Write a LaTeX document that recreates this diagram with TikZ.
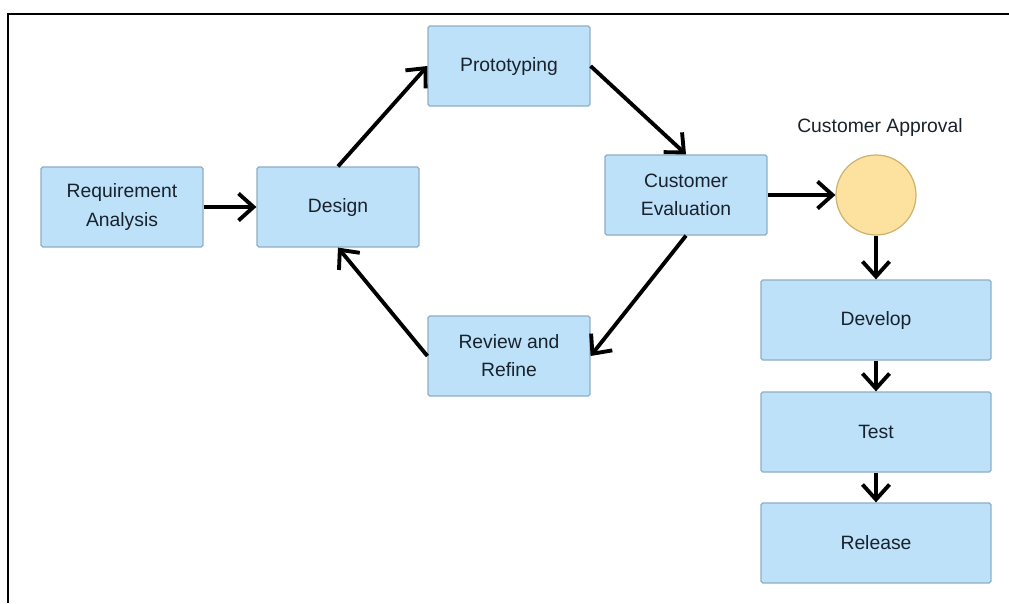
\documentclass[tikz,border=0pt]{standalone}
\usepackage{fontspec}
\setmainfont{Liberation Sans}
\usepackage{xcolor}
\usepackage{tikz}
\usetikzlibrary{shapes,arrows.meta,positioning,calc}

\definecolor{boxfill}{HTML}{BEE1FA}
\definecolor{boxline}{HTML}{8EADC4}
\definecolor{okfill}{HTML}{FCE29E}
\definecolor{okline}{HTML}{CDB46E}
\definecolor{txt}{HTML}{18222C}

\tikzset{
    stage/.style={draw=boxline, fill=boxfill, line width=0.7pt, rounded corners=1pt,
        minimum width=3.24cm, minimum height=1.6cm, align=center, text=txt,
        font=\fontsize{11}{16}\selectfont},
    widestage/.style={stage, minimum width=4.6cm},
    approval/.style={circle, draw=okline, fill=okfill, line width=0.7pt, minimum size=1.6cm},
    flow/.style={line width=2.2pt, -{Straight Barb[length=0.3cm, width=0.54cm, line width=2.2pt]}}
}

\begin{document}
\begin{tikzpicture}[x=0.02cm, y=-0.02cm]
    \useasboundingbox (0,0) rectangle (1009,603);

    % Frame
    \draw[line width=1.3pt] (8,603) -- (8,14) -- (1009,14);

    % Prototype loop
    \node[stage] (req) at (122,207) {Requirement\\Analysis};
    \node[stage] (design) at (338,207) {Design};
    \node[stage] (proto) at (509,66) {Prototyping};
    \node[stage] (eval) at (686,195) {Customer\\Evaluation};
    \node[stage] (refine) at (509,356) {Review and\\Refine};

    % Approval and delivery
    \node[approval] (ok) at (876,195) {};
    \node[text=txt, font=\fontsize{11}{16}\selectfont] (oklabel) at (880,127) {Customer Approval};
    \node[widestage] (dev) at (876,320) {Develop};
    \node[widestage] (test) at (876,432) {Test};
    \node[widestage] (rel) at (876,543) {Release};

    % Arrows
    \draw[flow] (req) -- (design);
    \draw[flow] (design.north) -- (proto.west);
    \draw[flow] (proto.east) -- (eval.north);
    \draw[flow] (eval.south) -- (refine.east);
    \draw[flow] (refine.west) -- (design.south);
    \draw[flow] (eval) -- (ok);
    \draw[flow] (ok) -- (dev);
    \draw[flow] (dev) -- (test);
    \draw[flow] (test) -- (rel);
\end{tikzpicture}
\end{document}
